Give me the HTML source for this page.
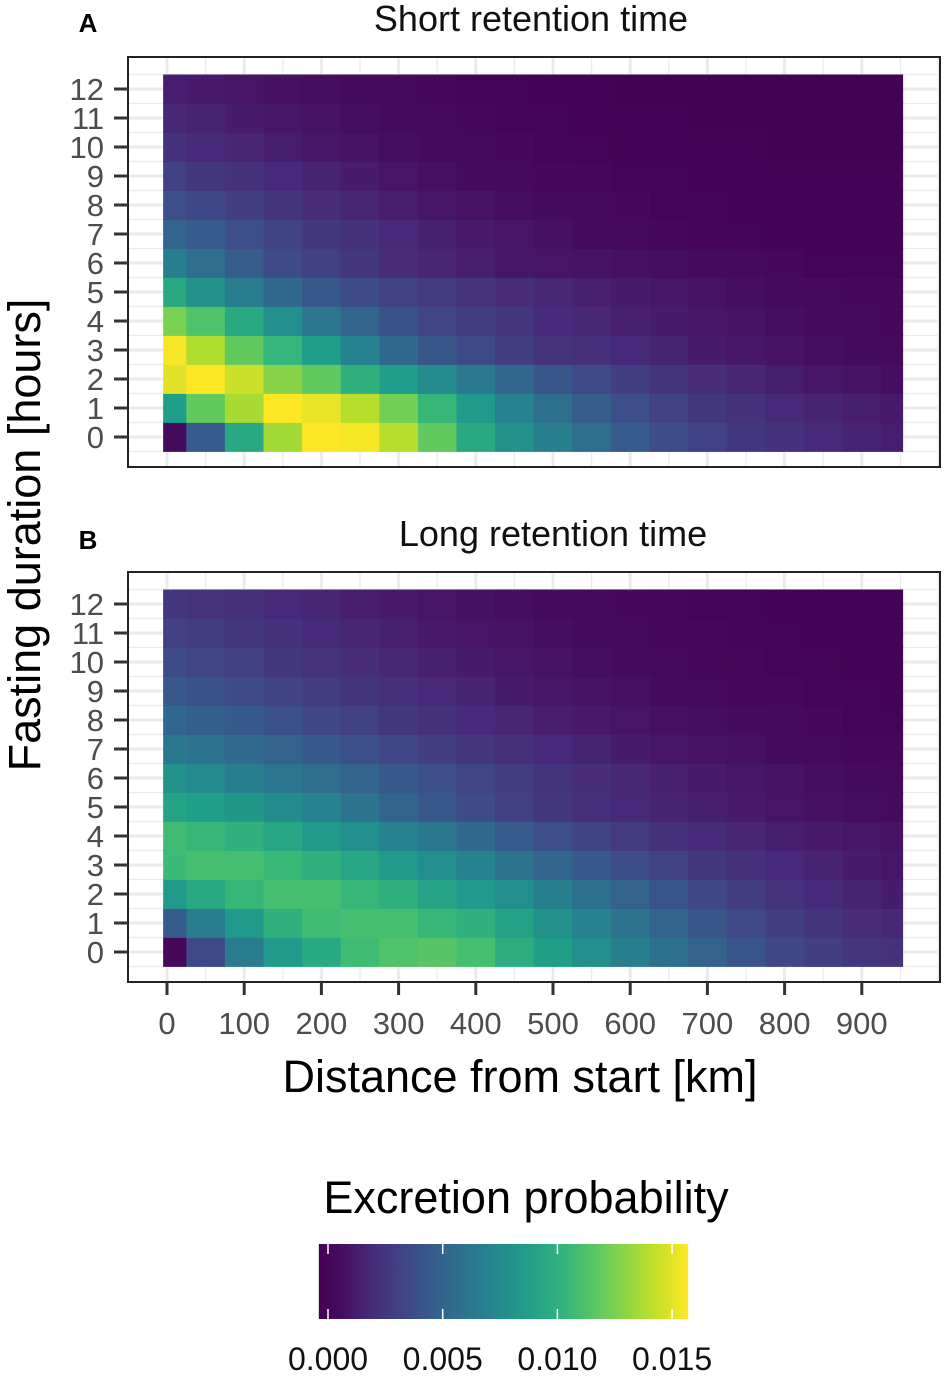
<!DOCTYPE html>
<html><head><meta charset="utf-8">
<style>
html,body{margin:0;padding:0;background:#fff;}
svg{display:block;font-family:"Liberation Sans",sans-serif;}
</style></head>
<body>
<svg id="chart" width="945" height="1376" viewBox="0 0 945 1376" xmlns="http://www.w3.org/2000/svg">
<text x="88" y="32" font-size="26" font-weight="bold" text-anchor="middle">A</text>
<text x="531" y="31" font-size="36" fill="#111" text-anchor="middle">Short retention time</text>
<text x="88" y="549" font-size="26" font-weight="bold" text-anchor="middle">B</text>
<text x="553" y="546" font-size="36" fill="#111" text-anchor="middle">Long retention time</text>
<text transform="translate(40,535) rotate(-90)" font-size="45" fill="#000" text-anchor="middle">Fasting duration [hours]</text>
<text x="520" y="1092" font-size="45" fill="#000" text-anchor="middle">Distance from start [km]</text>
<text x="526" y="1213" font-size="45" fill="#000" text-anchor="middle">Excretion probability</text>
<g id="panelA"></g>
<g id="panelB"></g>
<g id="legend"></g>
</svg>
<script>
// ---- data (values in units of 0.001) ----
const distances = [0,50,100,150,200,250,300,350,400,450,500,550,600,650,700,750,800,850,900,950];
const hours = [0,1,2,3,4,5,6,7,8,9,10,11,12];
const xTicks = [0,100,200,300,400,500,600,700,800,900];
const legendTicks = [0.000,0.005,0.010,0.015];
const shortRetention = [
[0.5,4.5,9.5,13.5,15.7,15.5,14,11.8,9.5,8.0,6.8,5.6,4.5,3.7,3.1,2.6,2.2,1.8,1.5,1.3],
[8.7,11.8,13.6,15.7,15.2,14,12.3,10.5,8.5,7.0,5.7,4.6,3.8,3.1,2.6,2.2,1.8,1.5,1.3,1.1],
[15,15.7,14.5,12.8,11.8,10,8.7,7.6,6.4,5.2,4.2,3.5,2.9,2.4,2.0,1.6,1.3,1.0,0.8,0.6],
[15.5,13.8,11.8,10.3,8.7,7.0,5.3,4.2,3.5,2.9,2.3,2.1,1.8,1.5,1.2,1.0,0.8,0.6,0.5,0.4],
[12.5,11.3,9.5,7.8,6.2,5.0,4.0,3.3,2.8,2.5,1.9,1.7,1.4,1.2,1.0,0.8,0.6,0.5,0.4,0.3],
[9.5,8,6.5,5.3,4.3,3.6,3.1,2.7,2.3,2.0,1.7,1.4,1.2,1.0,0.8,0.6,0.5,0.4,0.3,0.3],
[6.8,5.6,4.6,3.6,3.0,2.5,2.0,1.6,1.3,1.0,0.9,0.8,0.7,0.6,0.5,0.4,0.3,0.2,0.2,0.2],
[5,4.5,3.8,3.2,2.6,2.2,1.8,1.4,1.1,0.9,0.7,0.5,0.4,0.3,0.2,0.2,0.1,0.1,0.1,0.1],
[3.8,3.4,2.9,2.4,2.0,1.6,1.3,1.0,0.8,0.6,0.5,0.4,0.3,0.2,0.2,0.1,0.1,0.1,0.1,0.1],
[3.0,2.6,2.2,1.8,1.5,1.2,0.9,0.7,0.5,0.4,0.3,0.25,0.2,0.15,0.1,0.1,0.1,0.1,0.1,0.1],
[2.2,1.9,1.6,1.3,1.0,0.8,0.6,0.5,0.4,0.3,0.2,0.15,0.1,0.1,0.1,0.1,0.05,0.05,0.05,0.05],
[1.7,1.5,1.2,1.0,0.8,0.6,0.5,0.4,0.3,0.2,0.15,0.1,0.1,0.1,0.05,0.05,0.05,0.05,0.05,0.05],
[1.3,1.1,0.9,0.7,0.6,0.5,0.4,0.3,0.2,0.15,0.1,0.1,0.05,0.05,0.05,0.05,0.05,0.05,0.05,0.05]
];
const longRetention = [
[0.3,3.5,6.5,8.5,9.5,10.8,11.3,11.5,11,9.8,8.8,7.8,6.8,5.8,4.9,4.1,3.4,2.9,2.5,2.2],
[4.5,6.5,8.5,10,10.8,11,11,10.5,10,9.0,8.0,7.0,6.0,5.0,4.2,3.5,2.9,2.4,2.0,1.7],
[8.5,9.5,10.5,11,11,10.5,10,9.2,8.5,7.8,6.8,5.8,4.9,4.1,3.4,2.8,2.3,1.9,1.5,1.2],
[10.7,11,11,10.6,10,9.3,8.5,7.8,7.0,6.0,5.1,4.4,3.7,3.1,2.6,2.1,1.8,1.5,1.2,1.0],
[10.8,10.5,10,9.3,8.5,7.8,7.0,6.3,5.3,4.5,3.8,3.2,2.7,2.2,1.9,1.6,1.3,1.1,1.0,0.8],
[9.0,8.7,8.3,7.6,7.0,6.0,5.0,4.3,3.6,3.0,2.6,2.1,1.8,1.5,1.3,1.1,0.9,0.7,0.6,0.5],
[8.0,7.5,6.8,6.2,5.6,5.0,4.4,3.8,3.3,2.8,2.4,2.0,1.7,1.4,1.2,1.0,0.8,0.6,0.5,0.4],
[6.3,5.9,5.4,4.9,4.4,3.9,3.4,2.9,2.5,2.1,1.8,1.5,1.2,1.0,0.8,0.7,0.5,0.4,0.3,0.3],
[5.2,4.8,4.4,3.9,3.4,3.0,2.6,2.2,1.9,1.6,1.3,1.1,0.9,0.7,0.6,0.5,0.4,0.3,0.2,0.2],
[4.3,4.0,3.6,3.2,2.8,2.4,2.1,1.8,1.5,1.2,1.0,0.8,0.7,0.5,0.4,0.3,0.3,0.2,0.2,0.1],
[3.6,3.3,3.0,2.6,2.3,2.0,1.7,1.4,1.2,1.0,0.8,0.6,0.5,0.4,0.3,0.25,0.2,0.15,0.1,0.1],
[3.0,2.8,2.5,2.2,1.9,1.6,1.4,1.1,0.9,0.8,0.6,0.5,0.4,0.3,0.25,0.2,0.15,0.1,0.1,0.1],
[2.5,2.3,2.1,1.8,1.6,1.3,1.1,0.9,0.75,0.6,0.5,0.4,0.3,0.25,0.2,0.15,0.1,0.1,0.1,0.1]
];

const NS = "http://www.w3.org/2000/svg";
const VIR = ["#440154","#482878","#3e4989","#31688e","#26828e","#1f9e89","#35b779","#6ece58","#b5de2b","#fde725"];
function hex(c){return [parseInt(c.slice(1,3),16),parseInt(c.slice(3,5),16),parseInt(c.slice(5,7),16)];}
const VMAX = 15.7;
function viridis(v){
  let t=Math.max(0,Math.min(1,v/VMAX))*(VIR.length-1);
  const i=Math.min(VIR.length-2,Math.floor(t)), f=t-i;
  const a=hex(VIR[i]), b=hex(VIR[i+1]);
  return "rgb("+a.map((x,k)=>Math.round(x+(b[k]-x)*f)).join(",")+")";
}
function el(tag, attrs, parent){
  const e=document.createElementNS(NS,tag);
  for(const k in attrs) e.setAttribute(k,attrs[k]);
  parent.appendChild(e); return e;
}
const X0=167, XS=0.772, XMIN=-5, XMAX=953;
const xScale = d => X0 + d*XS;
const BOX_L=128, BOX_R=940;

function drawPanel(g, data, offY, label){
  const yScale = h => 437 + offY - 29*h;
  const top=57+offY, bot=467+offY;
  el("rect",{x:BOX_L,y:top,width:BOX_R-BOX_L,height:bot-top,fill:"#fff"},g);
  for(let h=-0.5; h<=12.5; h+=0.5){
    const y=yScale(h); if(y<=top||y>=bot) continue;
    const gl=el("line",{x1:BOX_L,x2:BOX_R,y1:y,y2:y,stroke:"#ebebeb","stroke-width":Number.isInteger(h)?3:1.2},g);
    
    
  }
  for(let d=-50; d<=1000; d+=50){
    const x=xScale(d); if(x<=BOX_L||x>=BOX_R) continue;
    const gl=el("line",{x1:x,x2:x,y1:top,y2:bot,stroke:"#ebebeb","stroke-width":d%100===0?3:1.2},g);
    
    
  }
  data.forEach((row,hi)=>{
    row.forEach((v,di)=>{
      const d=distances[di];
      const x1=xScale(Math.max(XMIN,d-25)), x2=xScale(Math.min(XMAX,d+25));
      const yc=yScale(hours[hi]);
      const r=el("rect",{x:x1,y:yc-14.5,width:x2-x1+0.4,height:29.4,fill:viridis(v)},g);
      
      
    });
  });
  el("rect",{x:BOX_L,y:top,width:BOX_R-BOX_L,height:bot-top,fill:"none",stroke:"#222","stroke-width":2},g);
  hours.forEach(h=>{
    const y=yScale(h);
    el("line",{x1:114,x2:BOX_L,y1:y,y2:y,stroke:"#333","stroke-width":3},g);
    const t=el("text",{x:104,y:y+11,"font-size":31,fill:"#4d4d4d","text-anchor":"end"},g);
    t.textContent=h;
    
    
  });
  if(label==="B"){
    xTicks.forEach(d=>{
      const x=xScale(d);
      el("line",{x1:x,x2:x,y1:bot,y2:bot+13,stroke:"#333","stroke-width":3},g);
      const t=el("text",{x:x,y:1034,"font-size":31,fill:"#4d4d4d","text-anchor":"middle"},g);
      t.textContent=d;
      
      
    });
  }
}
drawPanel(document.getElementById("panelA"), shortRetention, 0, "A");
drawPanel(document.getElementById("panelB"), longRetention, 515, "B");

const lg=document.getElementById("legend");
const LX0=328, LPX=114.7/0.005;
const lx = v => LX0 + v*LPX;
const defs=el("defs",{},lg);
const grad=el("linearGradient",{id:"vgrad",x1:"0",x2:"1",y1:"0",y2:"0"},defs);
const lmin=-0.0004, lmax=0.0157;
for(let i=0;i<=20;i++){
  const v=lmin+(lmax-lmin)*i/20;
  el("stop",{offset:(i/20),"stop-color":viridis(Math.max(0,v*1000))},grad);
}
const bar=el("rect",{x:lx(lmin),y:1244,width:lx(lmax)-lx(lmin),height:75,fill:"url(#vgrad)"},lg);


legendTicks.forEach(v=>{
  const x=lx(v);
  el("line",{x1:x,x2:x,y1:1244,y2:1254,stroke:"#fff","stroke-width":1.5},lg);
  el("line",{x1:x,x2:x,y1:1309,y2:1319,stroke:"#fff","stroke-width":1.5},lg);
  const t=el("text",{x:x,y:1370,"font-size":32,fill:"#111","text-anchor":"middle"},lg);
  t.textContent=v.toFixed(3);
  
  
});
</script>
</body></html>
